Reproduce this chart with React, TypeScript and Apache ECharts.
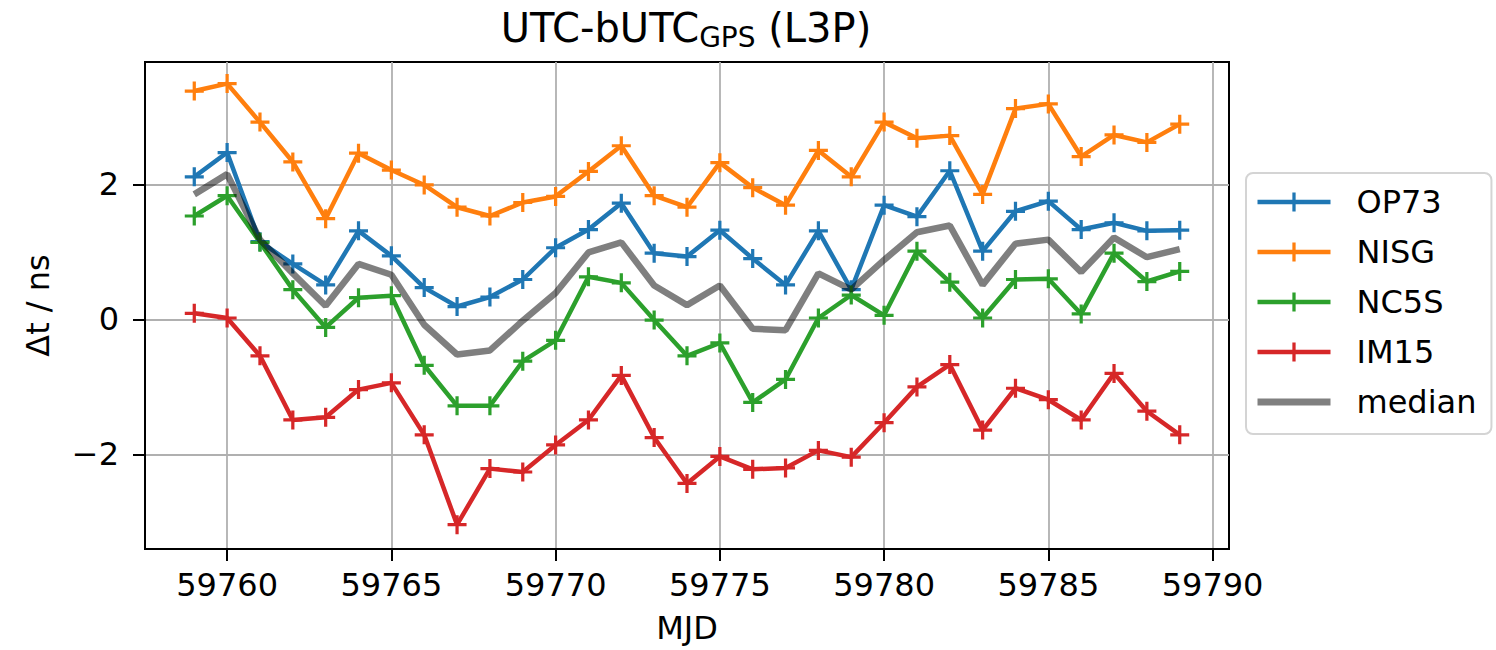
import React, { useEffect, useRef } from "react";
import * as echarts from "echarts";

const mjd = [
  59759, 59760, 59761, 59762, 59763, 59764, 59765, 59766, 59767, 59768, 59769,
  59770, 59771, 59772, 59773, 59774, 59775, 59776, 59777, 59778, 59779, 59780,
  59781, 59782, 59783, 59784, 59785, 59786, 59787, 59788, 59789,
];

const op73 = [
  2.11, 2.47, 1.15, 0.82, 0.51, 1.31, 0.94, 0.47, 0.19, 0.33, 0.59, 1.06, 1.33,
  1.72, 0.98, 0.93, 1.32, 0.9, 0.51, 1.31, 0.44, 1.69, 1.52, 2.2, 1.01, 1.6,
  1.75, 1.33, 1.43, 1.31, 1.32,
];
const nisg = [
  3.38, 3.49, 2.92, 2.33, 1.49, 2.46, 2.21, 1.99, 1.66, 1.53, 1.73, 1.82, 2.19,
  2.57, 1.83, 1.66, 2.32, 1.95, 1.69, 2.5, 2.11, 2.92, 2.68, 2.72, 1.85, 3.12,
  3.19, 2.41, 2.73, 2.62, 2.89,
];
const nc5s = [
  1.53, 1.83, 1.14, 0.44, -0.12, 0.32, 0.35, -0.68, -1.28, -1.28, -0.62, -0.31,
  0.63, 0.54, -0.01, -0.54, -0.35, -1.23, -0.89, 0.02, 0.36, 0.06, 1.01, 0.55,
  0.02, 0.59, 0.6, 0.08, 0.98, 0.56, 0.71,
];
const im15 = [
  0.09, 0.02, -0.54, -1.49, -1.45, -1.04, -0.94, -1.71, -3.04, -2.21, -2.26,
  -1.86, -1.49, -0.83, -1.75, -2.43, -2.03, -2.22, -2.2, -1.94, -2.04, -1.53,
  -1.0, -0.67, -1.64, -1.02, -1.19, -1.49, -0.8, -1.36, -1.71,
];
const median = [
  1.85, 2.15, 1.18, 0.68, 0.2, 0.82, 0.66, -0.08, -0.52, -0.46, -0.02, 0.39,
  0.99, 1.14, 0.5, 0.21, 0.5, -0.14, -0.16, 0.68, 0.44, 0.88, 1.29, 1.39, 0.51,
  1.12, 1.18, 0.7, 1.21, 0.92, 1.04,
];

const xTicks = [59760, 59765, 59770, 59775, 59780, 59785, 59790];
const yTicks = [-2, 0, 2];

const stations = [
  { name: "OP73", values: op73, color: "#1f77b4" },
  { name: "NISG", values: nisg, color: "#ff7f0e" },
  { name: "NC5S", values: nc5s, color: "#2ca02c" },
  { name: "IM15", values: im15, color: "#d62728" },
];

const FONT = "DejaVu Sans";
const PLUS =
  "path://M41.5,0 H58.5 V41.5 H100 V58.5 H58.5 V100 H41.5 V58.5 H0 V41.5 H41.5 Z";
const MEDIAN_COLOR = "rgba(0,0,0,0.5)";

export default function App() {
  const ref = useRef<HTMLDivElement>(null);

  useEffect(() => {
    if (!ref.current) return;
    const chart = echarts.init(ref.current, null, { renderer: "svg" });

    const pairs = (vals: number[]) => mjd.map((x, i) => [x, vals[i]]);

    const series: any[] = stations.map((s) => ({
      name: s.name,
      type: "line",
      data: pairs(s.values),
      symbol: PLUS,
      symbolSize: 19,
      showSymbol: true,
      showAllSymbol: true,
      lineStyle: { color: s.color, width: 4.5 },
      itemStyle: { color: s.color },
      emphasis: { disabled: true },
      z: 2,
    }));
    series.push({
      name: "median",
      type: "line",
      data: pairs(median),
      symbol: "none",
      lineStyle: { color: MEDIAN_COLOR, width: 6.5 },
      itemStyle: { color: MEDIAN_COLOR },
      emphasis: { disabled: true },
      z: 3,
    });

    const legendData: any[] = stations.map((s) => ({
      name: s.name,
      lineStyle: { width: 4.5, color: s.color },
    }));
    legendData.push({
      name: "median",
      lineStyle: { width: 7, color: "#808080" },
      itemStyle: { opacity: 0 },
    });

    chart.setOption({
      animation: false,
      backgroundColor: "#ffffff",
      textStyle: { fontFamily: FONT },
      grid: {
        left: 145,
        top: 62,
        right: 267,
        bottom: 101,
        show: true,
        borderColor: "#000",
        borderWidth: 2,
        backgroundColor: "#fff",
        containLabel: false,
        outerBoundsMode: "none",
      },
      graphic: [
        {
          type: "text",
          x: 686,
          y: 5,
          style: {
            text: "{a|UTC-bUTC}{s|GPS}{a| (L3P)}",
            align: "center",
            verticalAlign: "top",
            rich: {
              a: {
                fontFamily: FONT,
                fontSize: 40,
                lineHeight: 46,
                fill: "#000",
              },
              s: {
                fontFamily: FONT,
                fontSize: 28,
                lineHeight: 25,
                verticalAlign: "bottom",
                fill: "#000",
              },
            },
          },
        },
      ],
      legend: {
        orient: "vertical",
        left: 1246,
        top: 173,
        itemWidth: 73,
        itemHeight: 24,
        itemGap: 14,
        padding: [11, 15, 14, 8],
        backgroundColor: "#fff",
        borderColor: "#d4d4d4",
        borderWidth: 2,
        borderRadius: 7,
        textStyle: {
          fontFamily: FONT,
          fontSize: 32,
          color: "#000",
          lineHeight: 36,
          padding: [0, 0, 0, 21],
        },
        data: legendData,
      },
      xAxis: {
        type: "value",
        min: 59757.5,
        max: 59790.5,
        name: "MJD",
        nameLocation: "middle",
        nameGap: 63,
        nameTextStyle: { fontFamily: FONT, fontSize: 32, color: "#000" },
        axisLine: {
          show: true,
          onZero: false,
          lineStyle: { color: "#000", width: 2 },
        },
        axisTick: {
          show: true,
          length: 12,
          customValues: xTicks,
          lineStyle: { color: "#000", width: 2 },
        },
        axisLabel: {
          customValues: xTicks,
          margin: 20,
          fontFamily: FONT,
          fontSize: 32,
          color: "#000",
          formatter: (v: number) => String(v),
        },
        splitLine: { show: true, lineStyle: { color: "#b0b0b0", width: 1.8 } },
      },
      yAxis: {
        type: "value",
        min: -3.4,
        max: 3.81,
        name: "Δt / ns",
        nameLocation: "middle",
        nameGap: 91,
        nameRotate: 90,
        nameTextStyle: { fontFamily: FONT, fontSize: 32, color: "#000" },
        axisLine: {
          show: true,
          onZero: false,
          lineStyle: { color: "#000", width: 2 },
        },
        axisTick: {
          show: true,
          length: 12,
          customValues: yTicks,
          lineStyle: { color: "#000", width: 2 },
        },
        axisLabel: {
          customValues: yTicks,
          margin: 26,
          fontFamily: FONT,
          fontSize: 32,
          color: "#000",
          formatter: (v: number) => (v < 0 ? "\u2212" + Math.abs(v) : String(v)),
        },
        splitLine: { show: true, lineStyle: { color: "#b0b0b0", width: 1.8 } },
      },
      series,
    });

    return () => chart.dispose();
  }, []);

  return (
    <div
      ref={ref}
      style={{
        position: "fixed",
        left: 0,
        top: 0,
        width: 1496,
        height: 650,
        background: "#fff",
      }}
    />
  );
}
